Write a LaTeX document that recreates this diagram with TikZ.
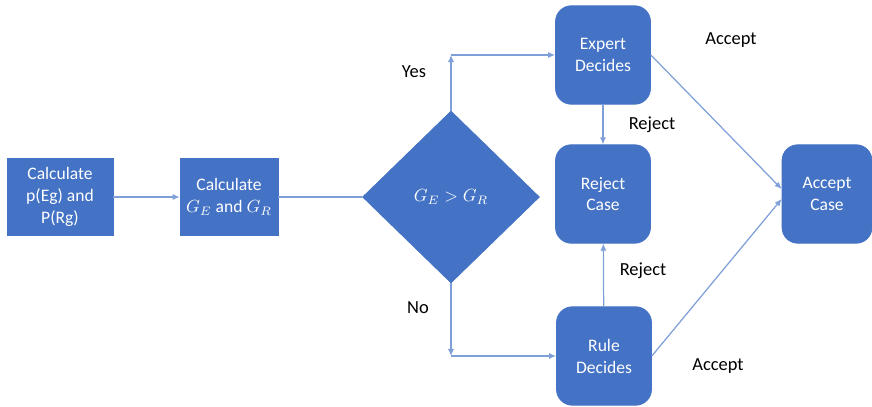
\documentclass[tikz,border=0pt]{standalone}
\usepackage{fontspec}
\setmainfont{Carlito}
\usetikzlibrary{shapes.geometric, arrows.meta, positioning}
\definecolor{officeblue}{HTML}{4472C4}
\definecolor{linkblue}{HTML}{7F9FD8}
\tikzstyle{process} = [rectangle, fill=officeblue, draw=officeblue, text=white,
minimum width=2.0cm, minimum height=1.55cm, inner sep=1pt,
align=center, font=\fontsize{10}{12.5}\selectfont]
\tikzstyle{arrow} = [draw=linkblue, line width=0.7pt, -{Latex[length=4pt,width=3.5pt]}]

\begin{document}
\begin{tikzpicture}[
        x=0.02cm, y=-0.02cm,
        decide/.style={process, rounded corners=9pt, minimum width=1.9cm, minimum height=1.97cm},
        test/.style={diamond, fill=officeblue, draw=officeblue, text=white,
            minimum width=3.54cm, minimum height=3.44cm, inner sep=0pt, font=\fontsize{10}{12.5}\selectfont},
        note/.style={font=\fontsize{10.5}{12.5}\selectfont, text=black},
    ]
        \useasboundingbox (0,0) rectangle (872,406);

        % left part
        \node[process, minimum width=2.12cm] (calcp) at (60,197) {Calculate\\p(Eg) and\\P(Rg)};
        \node[process, minimum width=1.96cm] (calcg) at (229,197) {Calculate\\$G_E$ and $G_R$};
        \node[test] (cmp) at (451,197) {$G_E > G_R$};

        % decisions
        \node[decide] (expert) at (603,55) {Expert\\Decides};
        \node[decide] (reject) at (603,194) {Reject\\Case};
        \node[decide] (rule) at (604,356) {Rule\\Decides};
        \node[decide, minimum width=1.8cm] (accept) at (827,194) {Accept\\Case};

        \coordinate (yescorner) at (451,55);
        \coordinate (nocorner) at (451,356);

        \draw[arrow] (calcp) -- (calcg);
        \draw[draw=linkblue, line width=0.7pt] (calcg) -- (cmp);
        \draw[arrow] (cmp.north) -- (yescorner);
        \draw[arrow] (yescorner) -- (expert);
        \draw[arrow] (cmp.south) -- (nocorner);
        \draw[arrow] (nocorner) -- (rule);
        \draw[arrow] (expert) -- (reject);
        \draw[arrow] (rule) -- (reject);
        \draw[arrow] (expert.east) -- ([yshift=0.1cm]accept.west);
        \draw[arrow] (rule.east) -- ([yshift=-0.1cm]accept.west);

        % labels
        \node[note] (yes) at (414,72) {Yes};
        \node[note] (no) at (418,308) {No};
        \node[note] (rejtop) at (652,125) {Reject};
        \node[note] (rejbot) at (643,271) {Reject};
        \node[note] (acctop) at (731,40) {Accept};
        \node[note] (accbot) at (718,366) {Accept};
    \end{tikzpicture}
\end{document}
